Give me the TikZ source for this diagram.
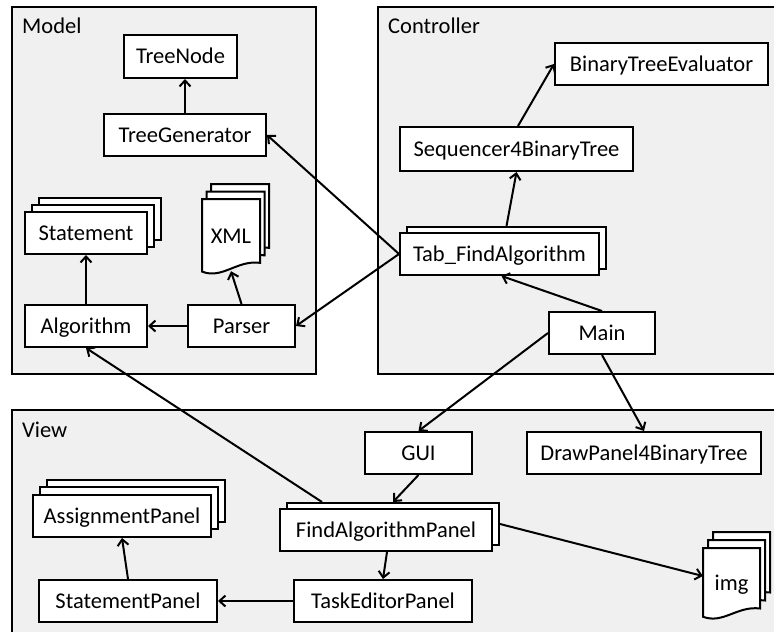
\documentclass[tikz,border=0pt]{standalone}
\usepackage{fontspec}
\setmainfont{Carlito}
\usetikzlibrary{arrows.meta,calc}
\definecolor{groupfill}{RGB}{240,240,240}

% a page with a wavy lower edge; #1 = top left corner, #2 = width, #3 = height
\newcommand\docpage[3]{%
  \begin{scope}[shift={(#1)}]
    \draw[sheet] (0,0) -- (#2,0) -- (#2,{0.84*#3})
      .. controls ({0.6*#2},{0.80*#3}) and ({0.35*#2},{1.06*#3}) .. (0,{0.955*#3}) -- cycle;
  \end{scope}}

\begin{document}
\begin{tikzpicture}[x=1pt,y=-1pt,
  font=\fontsize{22.5}{27}\selectfont,
  group/.style={draw=black, line width=2pt, fill=groupfill},
  box/.style={draw=black, line width=2pt, fill=white, inner sep=0pt,
    text height=14.5pt, text depth=0pt, minimum height=42pt},
  sheet/.style={draw=black, line width=2pt, fill=white},
  holder/.style={inner sep=0pt, text height=14.5pt, text depth=0pt},
  grouplabel/.style={anchor=base west, inner sep=0pt},
  link/.style={line width=2pt, -{Straight Barb[length=6pt,width=11pt]}}]

\clip (0,0) rectangle (774,632);
\fill[white] (0,0) rectangle (774,632);

% packages
\draw[group] (12,7) rectangle (316,374);
\draw[group] (378,7) rectangle (800,374);
\draw[group] (12,410) rectangle (800,660);
\node[grouplabel] (lmodel) at (22,33) {Model};
\node[grouplabel] (lctrl) at (388,33) {Controller};
\node[grouplabel] (lview) at (22,437) {View};

% Model
\node[box, minimum width=113pt, minimum height=43pt] (treenode) at (180.5,56.5) {TreeNode};
\node[box, minimum width=162pt] (treegen) at (185,135) {TreeGenerator};
\node[box, minimum width=122pt] (stmt-c) at (100,219) {};
\node[box, minimum width=122pt] (stmt-b) at (93,226) {};
\node[box, minimum width=122pt] (stmt) at (86,233) {Statement};
\node[box, minimum width=122pt] (alg) at (86,326) {Algorithm};
\node[box, minimum width=107pt] (parser) at (241.5,326) {Parser};
\docpage{211,184}{58}{76}
\docpage{206.5,191.5}{58}{76}
\docpage{202,199}{58}{76}
\node[holder, minimum width=58pt, minimum height=76pt] (xml) at (231,236) {XML};

% Controller
\node[box, minimum width=213pt] (bte) at (661.5,64) {BinaryTreeEvaluator};
\node[box, minimum width=233pt, minimum height=44pt] (seq) at (516.5,149) {Sequencer4BinaryTree};
\node[box, minimum width=199pt] (tab-b) at (506.5,248) {};
\node[box, minimum width=199pt] (tab) at (499.5,254) {Tab\_FindAlgorithm};
\node[box, minimum width=106pt] (main) at (602,333) {Main};

% View
\node[box, minimum width=107pt] (gui) at (418.5,453) {GUI};
\node[box, minimum width=234pt] (dp) at (644,453) {DrawPanel4BinaryTree};
\node[box, minimum width=178pt] (ap-c) at (136,501) {};
\node[box, minimum width=178pt] (ap-b) at (129,508) {};
\node[box, minimum width=178pt] (ap) at (122,516) {AssignmentPanel};
\node[box, minimum width=212pt] (fap-b) at (393,524) {};
\node[box, minimum width=212pt] (fap) at (386,530) {FindAlgorithmPanel};
\node[box, minimum width=178pt] (sp) at (128,601) {StatementPanel};
\node[box, minimum width=178pt] (tep) at (383,601) {TaskEditorPanel};
\docpage{713,532}{57}{72}
\docpage{708,540}{57}{72}
\docpage{703,548}{57}{72}
\node[holder, minimum width=57pt, minimum height=72pt] (img) at (731.5,583) {img};

% dependencies
\draw[link] (treegen.north) -- (treegen.north |- treenode.south);
\draw[link] (tab.west) -- (treegen.east);
\draw[link] (tab.west) -- (parser.east);
\draw[link] (parser.west) -- (alg.east);
\draw[link] (parser.north) -- ($(xml.south)+(0,-3)$);
\draw[link] (alg.north) -- (stmt.south);
\draw[link] ([xshift=-71pt]fap-b.north) -- (alg.south);
\draw[link] (tab-b.north) -- (seq.south);
\draw[link] ([xshift=1.5pt]seq.north) -- (bte.west);
\draw[link] (main.north) -- ([xshift=2pt]tab.south);
\draw[link] (main.west) -- (gui.north);
\draw[link] (main.south) -- (dp.north);
\draw[link] (gui.south) -- (fap-b.north);
\draw[link] (fap-b.east) -- ([yshift=7pt]img.west);
\draw[link] ([xshift=1pt]fap.south) -- (tep.north);
\draw[link] (tep.west) -- (sp.east);
\draw[link] (sp.north) -- (ap.south);
\end{tikzpicture}
\end{document}
